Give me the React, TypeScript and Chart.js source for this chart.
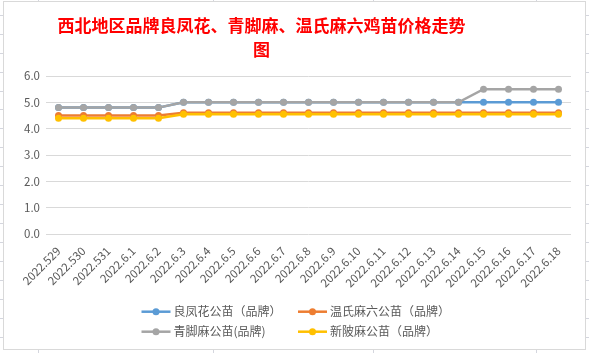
import React, { useEffect, useRef } from 'react';
import { Chart, registerables } from 'chart.js';

Chart.register(...registerables);

const TITLE_LINES = ['西北地区品牌良凤花、青脚麻、温氏麻六鸡苗价格走势', '图'];

const DATES = [
  '2022.529', '2022.530', '2022.531', '2022.6.1', '2022.6.2', '2022.6.3', '2022.6.4',
  '2022.6.5', '2022.6.6', '2022.6.7', '2022.6.8', '2022.6.9', '2022.6.10', '2022.6.11',
  '2022.6.12', '2022.6.13', '2022.6.14', '2022.6.15', '2022.6.16', '2022.6.17', '2022.6.18',
];

const SERIES_NAMES = ['良凤花公苗（品牌）', '温氏麻六公苗（品牌）', '青脚麻公苗(品牌)', '新陂麻公苗（品牌）'];

const LIANGFENGHUA = [4.8, 4.8, 4.8, 4.8, 4.8, 5.0, 5.0, 5.0, 5.0, 5.0, 5.0, 5.0, 5.0, 5.0, 5.0, 5.0, 5.0, 5.0, 5.0, 5.0, 5.0];
const WENSHIMALIU = [4.5, 4.5, 4.5, 4.5, 4.5, 4.6, 4.6, 4.6, 4.6, 4.6, 4.6, 4.6, 4.6, 4.6, 4.6, 4.6, 4.6, 4.6, 4.6, 4.6, 4.6];
const QINGJIAOMA = [4.8, 4.8, 4.8, 4.8, 4.8, 5.0, 5.0, 5.0, 5.0, 5.0, 5.0, 5.0, 5.0, 5.0, 5.0, 5.0, 5.0, 5.5, 5.5, 5.5, 5.5];
const XINPOMA = [4.4, 4.4, 4.4, 4.4, 4.4, 4.55, 4.55, 4.55, 4.55, 4.55, 4.55, 4.55, 4.55, 4.55, 4.55, 4.55, 4.55, 4.55, 4.55, 4.55, 4.55];

const COLORS = ['#5b9bd5', '#ed7d31', '#a5a5a5', '#ffc000'];
const DRAW_ORDER = [3, 2, 1, 0];

const Y_MIN = 0;
const Y_MAX = 6;
const Y_STEP = 1;

const FONT = '"Noto Sans CJK SC", "Open Sans", sans-serif';
const TEXT_COLOR = '#595959';
const GRID_COLOR = '#d9d9d9';

const titlePlugin = {
  id: 'offsetTitle',
  afterDraw(chart: any) {
    const ctx = chart.ctx;
    ctx.save();
    ctx.fillStyle = '#ff0000';
    ctx.font = `bold 17px ${FONT}`;
    ctx.textAlign = 'center';
    ctx.textBaseline = 'middle';
    const cx = chart.width / 2 - 33;
    TITLE_LINES.forEach((line, i) => {
      ctx.fillText(line, cx, 23.5 + i * 24);
    });
    ctx.restore();
  },
};

const legendPlugin = {
  id: 'gridLegend',
  afterDraw(chart: any) {
    const ctx = chart.ctx;
    const cx = chart.width / 2;
    const colX = [cx - 153, cx + 3.5];
    const rowY = [chart.height - 37.3, chart.height - 17.3];
    chart.data.datasets.forEach((ds: any, i: number) => {
      const x = colX[i % 2];
      const y = rowY[Math.floor(i / 2)];
      ctx.save();
      ctx.strokeStyle = ds.borderColor;
      ctx.lineWidth = 2.5;
      ctx.beginPath();
      ctx.moveTo(x, y);
      ctx.lineTo(x + 29, y);
      ctx.stroke();
      ctx.fillStyle = ds.borderColor;
      ctx.beginPath();
      ctx.arc(x + 14.5, y, 3.5, 0, Math.PI * 2);
      ctx.fill();
      ctx.fillStyle = TEXT_COLOR;
      ctx.font = `12px ${FONT}`;
      ctx.textBaseline = 'middle';
      ctx.textAlign = 'left';
      ctx.fillText(ds.label, x + 32, y);
      ctx.restore();
    });
  },
};

const ROW_LINES = Array.from({ length: 18 }, (_, k) => 14.7 + 18.95 * k);
const COL_LINES = [38, 213, 373, 536];

export default function App() {
  const ref = useRef<HTMLCanvasElement | null>(null);

  useEffect(() => {
    if (!ref.current) return;
    const seriesData = [LIANGFENGHUA, WENSHIMALIU, QINGJIAOMA, XINPOMA];
    const chart = new Chart(ref.current, {
      type: 'line',
      data: {
        labels: DATES,
        datasets: seriesData.map((d, i) => ({
          label: SERIES_NAMES[i],
          data: d,
          borderColor: COLORS[i],
          backgroundColor: COLORS[i],
          pointBackgroundColor: COLORS[i],
          pointBorderColor: COLORS[i],
          borderWidth: 2.5,
          pointRadius: 3.5,
          pointBorderWidth: 0,
          tension: 0,
          order: DRAW_ORDER[i],
        })),
      },
      options: {
        animation: false,
        responsive: false,
        devicePixelRatio: 1,
        layout: { padding: { left: 0, right: 14, top: 74, bottom: 58 } },
        plugins: {
          legend: { display: false },
          tooltip: { enabled: false },
          title: { display: false },
        },
        scales: {
          x: {
            offset: true,
            grid: { display: false },
            border: { display: false },
            ticks: {
              color: TEXT_COLOR,
              font: { size: 11.5, family: FONT },
              minRotation: 45,
              maxRotation: 45,
              autoSkip: false,
              padding: 2,
            },
            afterFit: (s: any) => {
              s.height = 57;
            },
          },
          y: {
            min: Y_MIN,
            max: Y_MAX,
            ticks: {
              stepSize: Y_STEP,
              color: TEXT_COLOR,
              font: { size: 11.5, family: FONT },
              padding: 6,
              callback: (v: any) => Number(v).toFixed(1),
            },
            grid: { color: GRID_COLOR, drawTicks: false, lineWidth: 1 },
            border: { display: false },
            afterFit: (s: any) => {
              s.width = 42;
            },
          },
        },
      },
      plugins: [titlePlugin, legendPlugin],
    });
    return () => chart.destroy();
  }, []);

  return (
    <div style={{ position: 'fixed', left: 0, top: 0, width: 589, height: 353, background: '#fff', overflow: 'hidden' }}>
      {ROW_LINES.map((y, i) => (
        <React.Fragment key={'r' + i}>
          <div style={{ position: 'absolute', left: 0, top: Math.round(y), width: 3, height: 1, background: '#d4d6de' }} />
          <div style={{ position: 'absolute', left: 586, top: Math.round(y), width: 3, height: 1, background: '#d4d6de' }} />
        </React.Fragment>
      ))}
      {COL_LINES.map((x, i) => (
        <React.Fragment key={'c' + i}>
          <div style={{ position: 'absolute', left: x, top: 0, width: 1, height: 1, background: '#d4d6de' }} />
          <div style={{ position: 'absolute', left: x, top: 350, width: 1, height: 3, background: '#d4d6de' }} />
        </React.Fragment>
      ))}
      <div
        style={{
          position: 'absolute',
          left: 3,
          top: 1,
          width: 583,
          height: 349,
          border: '1px solid #d9d9d9',
          boxSizing: 'border-box',
          background: '#fff',
        }}
      >
        <canvas ref={ref} width={581} height={347} style={{ display: 'block', width: 581, height: 347 }} />
      </div>
    </div>
  );
}
